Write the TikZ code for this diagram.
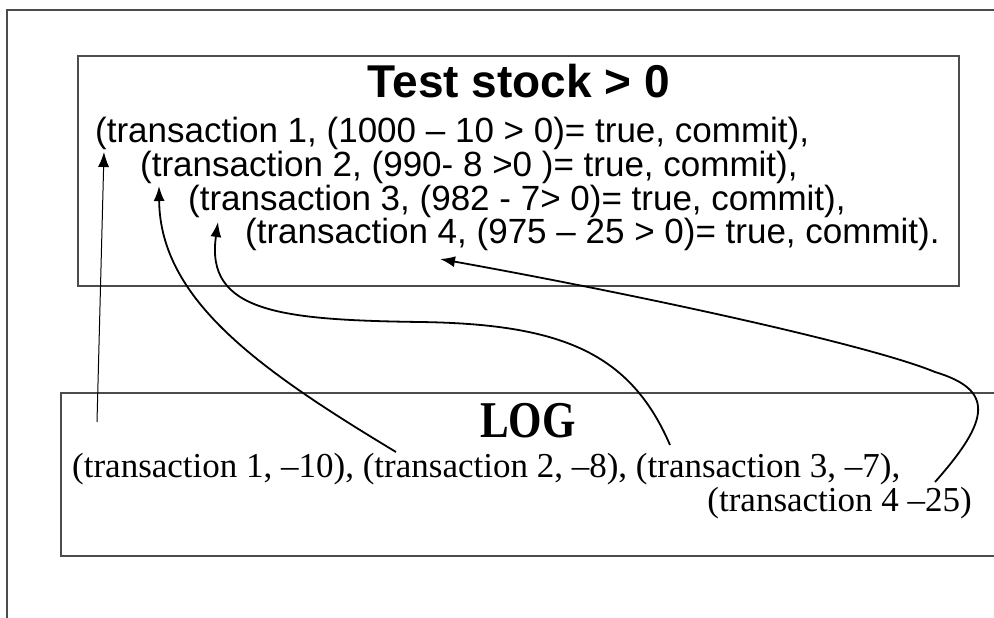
\documentclass[tikz,border=0pt]{standalone}
\usepackage{fontspec}
\setmainfont{Liberation Serif}
\newfontfamily\arialf{Liberation Sans}
\usetikzlibrary{arrows.meta}
\tikzset{
  frameline/.style={draw=black!70, line width=1.3pt},
  bodytxt/.style={inner sep=0pt, anchor=base west, font=\arialf\fontsize{35}{35}\selectfont},
  logtxt/.style={inner sep=0pt, font=\fontsize{35}{35}\selectfont},
  conn/.style={line width=1.8pt, -{Latex[length=15pt,width=11pt]}},
  thinconn/.style={line width=1pt, -{Latex[length=15pt,width=11pt]}}
}
\begin{document}
\begin{tikzpicture}[x=1pt,y=-1pt]
\useasboundingbox (0,0) rectangle (994,618);
\clip (0,0) rectangle (994,618);
\fill[white] (0,0) rectangle (994,618);
% outer frame
\draw[frameline] (7,640) -- (7,10) -- (1010,10);
% top box
\draw[frameline] (78,56) rectangle (959,286);
\node[inner sep=0pt, anchor=base, font=\arialf\bfseries\fontsize{46}{46}\selectfont] (title) at (519,98) {Test stock > 0};
\node[bodytxt] (t1) at (95,142) {(transaction 1, (1000 – 10 > 0)= true, commit),};
\node[bodytxt] (t2) at (140,176) {(transaction 2, (990- 8 >0 )= true, commit),};
\node[bodytxt] (t3) at (188,210) {(transaction 3, (982 - 7> 0)= true, commit),};
\node[bodytxt] (t4) at (245,243) {(transaction 4, (975 – 25 > 0)= true, commit).};
% log box
\draw[frameline] (1010,393) -- (61,393) -- (61,556) -- (1010,556);
\node[inner sep=0pt, anchor=base] (logtitle) at (528,437) {\scalebox{1}[1.2]{\bfseries\fontsize{43}{43}\selectfont LOG}};
\node[logtxt, anchor=base west] (l1) at (72,477) {(transaction 1, –10), (transaction 2, –8), (transaction 3, –7),};
\node[logtxt, anchor=base east] (l2) at (972,511) {(transaction 4 –25)};
% connector ends
\coordinate (s1) at (97,422);
\coordinate (e1) at (104,152);
\coordinate (s2) at (396,452);
\coordinate (e2) at (159,186);
\coordinate (s3) at (670,445);
\coordinate (m3) at (420,322);
\coordinate (e3) at (218,222);
\coordinate (s4) at (935,482);
\coordinate (m4) at (935,372);
\coordinate (e4) at (440,259);
% connectors
\draw[thinconn] (s1) -- (e1);
\draw[conn] (s2) .. controls (260,370) and (160,300) .. (e2);
\draw[conn] (s3) .. controls (630,352) and (560,324) .. (m3) .. controls (280,320) and (205,312) .. (e3);
\draw[conn] (s4) .. controls (990,420) and (995,390) .. (m4) .. controls (870,345) and (640,295) .. (e4);
\end{tikzpicture}
\end{document}
